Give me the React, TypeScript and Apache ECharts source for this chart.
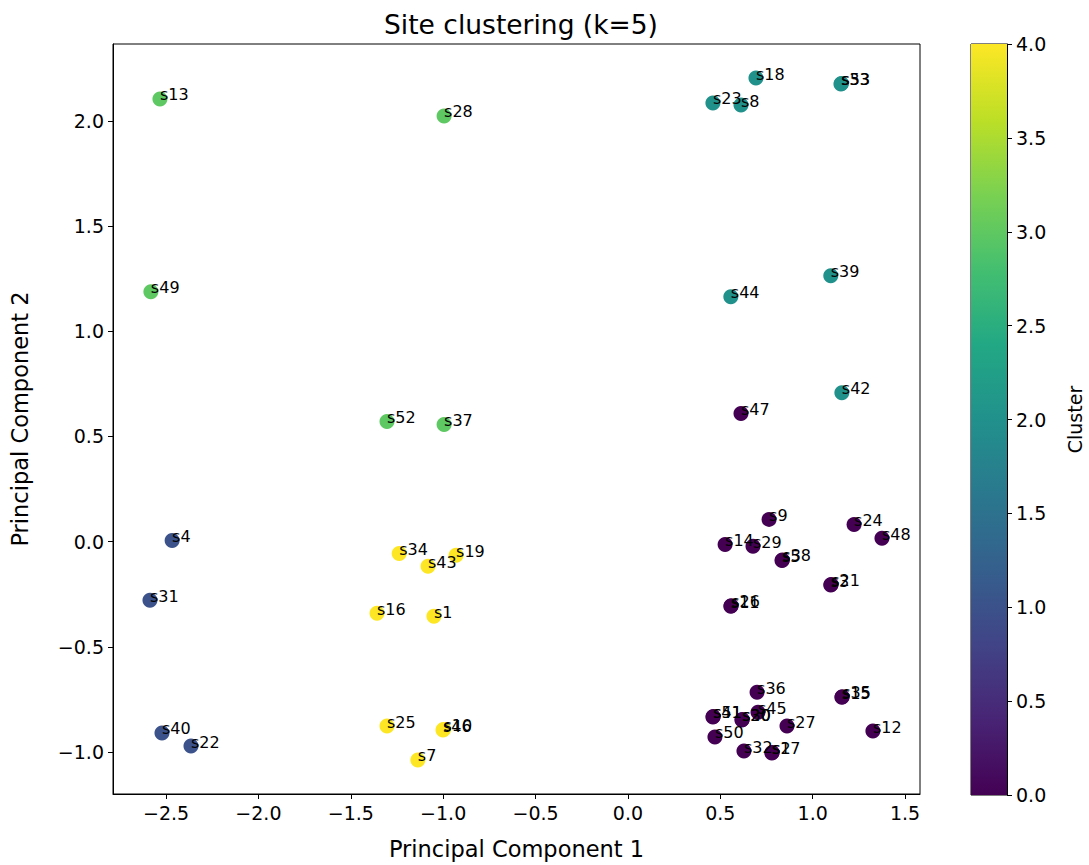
import React, { useEffect, useRef } from "react";
import * as echarts from "echarts";

const names = [
  "s13", "s28", "s49", "s52", "s37",
  "s4", "s31", "s40", "s22",
  "s34", "s43", "s19", "s16", "s1", "s25", "s46", "s10", "s7",
  "s18", "s23", "s8", "s33", "s53", "s39", "s44", "s42",
  "s47", "s9", "s24", "s48", "s14", "s29", "s5", "s38", "s3", "s21", "s11", "s26",
  "s36", "s45", "s41", "s51", "s20", "s30", "s27", "s50", "s32", "s17", "s2", "s15", "s35", "s12",
];
const pc1 = [
  -2.533, -0.995, -2.582, -1.304, -0.995,
  -2.467, -2.587, -2.522, -2.365,
  -1.238, -1.082, -0.93, -1.358, -1.05, -1.304, -1.001, -0.998, -1.137,
  0.693, 0.46, 0.612, 1.153, 1.156, 1.098, 0.557, 1.158,
  0.612, 0.764, 1.224, 1.375, 0.526, 0.677, 0.834, 0.836, 1.098, 1.1, 0.557, 0.559,
  0.699, 0.704, 0.46, 0.462, 0.617, 0.619, 0.861, 0.471, 0.628, 0.779, 0.781, 1.158, 1.16, 1.326,
];
const pc2 = [
  2.104, 2.023, 1.188, 0.571, 0.557,
  0.006, -0.278, -0.909, -0.971,
  -0.056, -0.117, -0.065, -0.34, -0.354, -0.876, -0.895, -0.893, -1.037,
  2.203, 2.085, 2.075, 2.175, 2.177, 1.264, 1.164, 0.708,
  0.609, 0.106, 0.082, 0.016, -0.013, -0.022, -0.089, -0.087, -0.206, -0.204, -0.307, -0.305,
  -0.715, -0.81, -0.833, -0.831, -0.847, -0.845, -0.876, -0.928, -0.995, -1.004, -1.002, -0.739, -0.737, -0.9,
];
const clusters = [
  3, 3, 3, 3, 3,
  1, 1, 1, 1,
  4, 4, 4, 4, 4, 4, 4, 4, 4,
  2, 2, 2, 2, 2, 2, 2, 2,
  0, 0, 0, 0, 0, 0, 0, 0, 0, 0, 0, 0,
  0, 0, 0, 0, 0, 0, 0, 0, 0, 0, 0, 0, 0, 0,
];

const xTicks = [-2.5, -2.0, -1.5, -1.0, -0.5, 0.0, 0.5, 1.0, 1.5];
const yTicks = [-1.0, -0.5, 0.0, 0.5, 1.0, 1.5, 2.0];
const cbTicks = [0.0, 0.5, 1.0, 1.5, 2.0, 2.5, 3.0, 3.5, 4.0];
const clusterColors = ["#440154", "#3b528b", "#21918c", "#5ec962", "#fde725"];
const viridisStops = ["#440154", "#482475", "#414487", "#355f8d", "#2a788e", "#21918c", "#22a884", "#44bf70", "#7ad151", "#bddf26", "#fde725"];

const FONT = "DejaVu Sans";
const fmt = (v: number) => (v < 0 ? "\u2212" + Math.abs(v).toFixed(1) : v.toFixed(1));

export default function App() {
  const ref = useRef<HTMLDivElement>(null);
  useEffect(() => {
    const chart = echarts.init(ref.current!, null, { renderer: "svg" });
    const data = names.map((n, i) => ({
      name: n,
      value: [pc1[i], pc2[i]],
      itemStyle: { color: clusterColors[clusters[i]], opacity: 1 },
    }));
    const axisCommon = {
      axisLine: { show: true, onZero: false, lineStyle: { color: "#000", width: 1 } },
      axisTick: { show: true, length: 5, lineStyle: { color: "#000" } },
      splitLine: { show: false },
      axisLabel: { color: "#000", fontFamily: FONT, fontSize: 19 },
      nameTextStyle: { color: "#000", fontFamily: FONT, fontSize: 22.5 },
    };
    chart.setOption({
      animation: false,
      backgroundColor: "#fff",
      title: {
        text: "Site clustering (k=5)",
        left: 516,
        top: 6,
        textAlign: "center",
        textStyle: { fontFamily: FONT, fontSize: 26.5, fontWeight: "normal", color: "#000" },
      },
      grid: [
        { left: 113, top: 44, width: 807, height: 751, show: true, borderColor: "#000", borderWidth: 1, backgroundColor: "transparent" },
        { left: 971, top: 44, width: 36, height: 751, show: true, borderColor: "#000", borderWidth: 1, backgroundColor: "transparent" },
      ],
      xAxis: [
        {
          ...axisCommon,
          gridIndex: 0,
          type: "value",
          min: -2.787,
          max: 1.581,
          name: "Principal Component 1",
          nameLocation: "middle",
          nameGap: 43,
          axisTick: { ...axisCommon.axisTick, customValues: xTicks },
          axisLabel: { ...axisCommon.axisLabel, customValues: xTicks, formatter: (v: number) => fmt(v), margin: 9 },
        },
        {
          gridIndex: 1,
          type: "category",
          data: ["c"],
          show: false,
        },
      ],
      yAxis: [
        {
          ...axisCommon,
          gridIndex: 0,
          type: "value",
          min: -1.199,
          max: 2.365,
          name: "Principal Component 2",
          nameLocation: "middle",
          nameGap: 82,
          axisTick: { ...axisCommon.axisTick, customValues: yTicks },
          axisLabel: { ...axisCommon.axisLabel, customValues: yTicks, formatter: (v: number) => fmt(v), margin: 9 },
        },
        {
          ...axisCommon,
          gridIndex: 1,
          type: "value",
          position: "right",
          min: 0,
          max: 4,
          interval: 0.5,
          name: "Cluster",
          nameLocation: "middle",
          nameGap: 58,
          nameRotate: 90,
          nameTextStyle: { ...axisCommon.nameTextStyle, fontSize: 19 },
          axisTick: { ...axisCommon.axisTick, customValues: cbTicks },
          axisLabel: { ...axisCommon.axisLabel, customValues: cbTicks, formatter: (v: number) => v.toFixed(1), margin: 9 },
        },
      ],
      series: [
        {
          type: "scatter",
          xAxisIndex: 0,
          yAxisIndex: 0,
          symbolSize: 15,
          data,
          label: {
            show: true,
            formatter: "{b}",
            position: [7.5, 11.5],
            align: "left",
            verticalAlign: "bottom",
            color: "#000",
            fontFamily: FONT,
            fontSize: 16,
          },
          emphasis: { disabled: true },
          z: 3,
        },
        {
          type: "bar",
          xAxisIndex: 1,
          yAxisIndex: 1,
          barWidth: "100%",
          data: [4],
          silent: true,
          itemStyle: {
            color: new echarts.graphic.LinearGradient(
              0, 1, 0, 0,
              viridisStops.map((c, i) => ({ offset: i / (viridisStops.length - 1), color: c }))
            ),
          },
          z: 1,
        },
      ],
    });
    return () => chart.dispose();
  }, []);
  return (
    <div
      ref={ref}
      style={{ position: "fixed", left: 0, top: 0, width: 1089, height: 865 }}
    />
  );
}
